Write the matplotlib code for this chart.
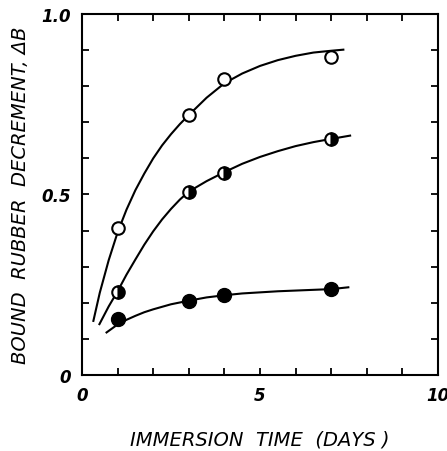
import matplotlib
matplotlib.use("Agg")
import matplotlib.pyplot as plt

# measured points
days = [1, 3, 4, 7]
open_vals = [0.407, 0.721, 0.820, 0.880]
half_vals = [0.231, 0.508, 0.560, 0.654]
filled_vals = [0.154, 0.206, 0.221, 0.237]

# hand-drawn fitted curves
open_curve_x = [0.32, 0.5, 0.75, 1.0, 1.25, 1.5, 1.75, 2.0, 2.25, 2.5, 2.75, 3.0, 3.5, 4.0, 4.5, 5.0, 5.5, 6.0, 6.5, 7.0, 7.34]
open_curve_y = [0.150, 0.228, 0.318, 0.395, 0.458, 0.512, 0.558, 0.600, 0.636, 0.667, 0.695, 0.720, 0.768, 0.808, 0.835, 0.856, 0.872, 0.884, 0.893, 0.898, 0.901]
half_curve_x = [0.49, 0.75, 1.0, 1.25, 1.5, 1.75, 2.0, 2.25, 2.5, 2.75, 3.0, 3.5, 4.0, 4.5, 5.0, 5.5, 6.0, 6.5, 7.0, 7.53]
half_curve_y = [0.141, 0.190, 0.232, 0.278, 0.320, 0.361, 0.398, 0.431, 0.460, 0.486, 0.508, 0.537, 0.562, 0.585, 0.604, 0.620, 0.634, 0.645, 0.654, 0.663]
filled_curve_x = [0.69, 1.0, 1.25, 1.5, 1.75, 2.0, 2.5, 3.0, 3.5, 4.0, 4.5, 5.0, 5.5, 6.0, 6.5, 7.0, 7.48]
filled_curve_y = [0.118, 0.140, 0.153, 0.164, 0.174, 0.182, 0.196, 0.206, 0.215, 0.221, 0.226, 0.229, 0.232, 0.234, 0.236, 0.238, 0.243]

x_ticks = list(range(0, 11))
x_tick_labels = ['0', '', '', '', '', '5', '', '', '', '', '10']
y_ticks = [i / 10 for i in range(0, 11)]
y_tick_labels = ['0', '', '', '', '', '0.5', '', '', '', '', '1.0']

fig = plt.figure(figsize=(4.47, 4.52), dpi=100)
ax = fig.add_axes([0.1834, 0.168, 0.7966, 0.799])

lw = 1.5
ax.plot(open_curve_x, open_curve_y, color='black', lw=lw, zorder=2)
ax.plot(half_curve_x, half_curve_y, color='black', lw=lw, zorder=2)
ax.plot(filled_curve_x, filled_curve_y, color='black', lw=lw, zorder=2)

ax.plot(days, open_vals, 'o', ms=9, mfc='white', mec='black', mew=1.5, ls='none', zorder=3)
ax.plot(days, half_vals, 'o', ms=9, fillstyle='right', mfc='black', mfcalt='white',
        mec='black', mew=1.5, ls='none', zorder=3)
ax.plot(days, filled_vals, 'o', ms=10, mfc='black', mec='black', ls='none', zorder=3)

ax.set_xlim(0, 10)
ax.set_ylim(0, 1.0)
ax.set_xticks(x_ticks)
ax.set_xticklabels(x_tick_labels)
ax.set_yticks(y_ticks)
ax.set_yticklabels(y_tick_labels)

for s in ax.spines.values():
    s.set_linewidth(1.5)
ax.tick_params(direction='in', length=5, width=1.3, top=True, right=True,
               labelsize=12, pad=8)
for lab in ax.get_xticklabels() + ax.get_yticklabels():
    lab.set_fontstyle('italic')
    lab.set_fontweight('bold')

ax.set_xlabel('IMMERSION  TIME  (DAYS )', fontsize=14, fontstyle='italic', labelpad=18)
ax.set_ylabel('BOUND  RUBBER  DECREMENT, \u0394B', fontsize=14, fontstyle='italic', labelpad=8)

fig.savefig('out.png', dpi=100)
